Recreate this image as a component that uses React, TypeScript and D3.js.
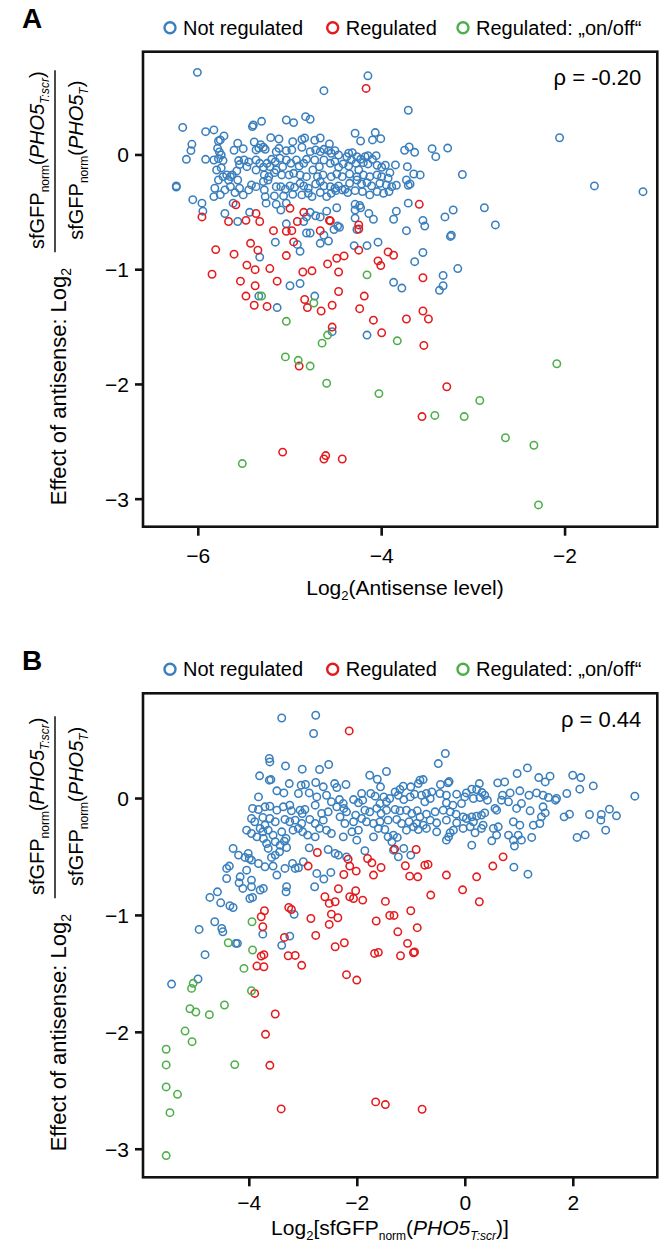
import React from "react";
import * as d3 from "d3";

type Pt = [number, number];

// Panel A: Log2(antisense level) vs effect of antisense
const notRegA: Pt[] = [
  [-6.01, 0.72], [-4.15, 0.69], [-4.63, 0.56], [-3.71, 0.39], [-2.06, 0.15], [-1.68, -0.27], [-1.15, -0.32],
  [-6.17, 0.24], [-6.24, -0.27], [-6.24, -0.28], [-3.12, -0.17], [-3.28, 0.06],
  [-3.71, -0.42], [-3.55, -0.57], [-3.53, -0.62], [-3.73, -0.66], [-3.84, -0.49], [-3.87, -0.56], [-4.27, -0.65],
  [-4.29, -0.55], [-4.14, -0.51], [-4.09, -0.56], [-4.29, -0.48], [-4.24, -0.44], [-4.29, -0.43], [-4.49, -0.46],
  [-4.52, -0.65], [-4.48, -0.62], [-4.46, -0.63], [-4.72, -0.53], [-4.67, -0.54], [-4.78, -0.5], [-4.63, -0.7],
  [-4.82, -0.68], [-4.78, -0.68], [-4.85, -0.58], [-5.04, -0.6], [-5.44, -0.5], [-5.57, -0.58], [-5.71, -0.51],
  [-5.95, -0.49], [-5.96, -0.42], [-6.06, -0.39], [-5.62, -0.42], [-5.26, -0.42], [-5.15, -0.43], [-5.1, -0.48],
  [-5.04, -0.42], [-4.6, -0.49], [-4.23, -0.46], [-4.82, -0.54],
  [-4.73, -1.23], [-4.54, -1.54], [-4.16, -1.57], [-5.14, -1.33], [-5.0, -1.14], [-4.89, -1.12], [-5.34, -1.23],
  [-5.33, -0.89], [-4.3, -0.79], [-4.16, -0.79], [-4.04, -0.76], [-4.67, -0.77], [-4.58, -0.75], [-5.16, -0.76],
  [-4.92, -0.78], [-4.89, -0.84], [-3.87, -1.11], [-3.78, -1.16], [-3.55, -0.85], [-3.64, -0.93], [-3.33, -1.05],
  [-3.33, -1.14], [-3.37, -1.18], [-3.17, -0.99], [-3.25, -0.71], [-3.24, -0.7], [-3.22, -0.48], [-3.31, -0.54],
  [-2.88, -0.46], [-2.76, -0.61],
  [-4.83, 0.334], [-4.78, 0.311], [-5.04, 0.305], [-4.96, 0.282], [-5.31, 0.293], [-5.4, 0.261], [-5.41, 0.247],
  [-5.92, 0.203], [-5.83, 0.218], [-5.72, 0.166], [-4.29, 0.189], [-4.07, 0.195], [-4.23, 0.122], [-4.1, 0.131],
  [-4.01, 0.142], [-5.78, 0.122], [-5.76, 0.131], [-5.21, 0.151], [-5.12, 0.139], [-4.97, 0.116], [-4.87, 0.136],
  [-4.84, 0.148], [-4.73, 0.128], [-4.67, 0.148], [-4.57, 0.096], [-6.07, 0.093], [-6.08, 0.038], [-6.13, -0.038],
  [-5.57, 0.102], [-5.61, 0.041], [-5.51, 0.055], [-5.39, 0.113], [-5.32, 0.09], [-5.34, 0.061], [-5.29, 0.067],
  [-5.37, 0.044], [-5.27, 0.049], [-5.12, 0.058], [-5.15, 0.029], [-5.04, 0.038], [-4.98, 0.044], [-4.87, 0.067],
  [-4.78, 0.029], [-4.72, 0.044], [-4.67, 0.029], [-4.63, 0.049], [-4.58, 0.038], [-4.55, 0.015], [-4.51, 0.038],
  [-4.47, 0.0], [-4.36, 0.015], [-4.32, 0.02], [-4.38, -0.015], [-4.27, -0.015], [-4.23, -0.038], [-4.18, -0.015],
  [-4.15, -0.006], [-4.06, -0.006], [-3.75, 0.041], [-3.7, 0.07], [-3.64, 0.023], [-3.45, 0.055], [-3.41, -0.015],
  [-5.92, -0.038], [-5.83, -0.044], [-5.78, -0.032], [-5.75, 0.0], [-5.73, -0.049], [-5.79, 0.058], [-5.77, 0.026],
  [-5.75, -0.113], [-5.8, -0.131], [-5.69, -0.174], [-5.65, -0.189], [-5.78, -0.218], [-5.56, -0.049], [-5.55, -0.084],
  [-5.5, -0.044], [-5.45, -0.061], [-5.47, -0.102], [-5.58, -0.139], [-5.63, -0.174], [-5.37, -0.044], [-5.33, -0.073],
  [-5.37, -0.131], [-5.29, -0.107], [-5.25, -0.073], [-5.2, -0.038], [-5.22, -0.102], [-5.16, -0.058], [-5.11, -0.029],
  [-5.08, -0.102], [-5.15, -0.131], [-5.04, -0.044], [-4.99, -0.073], [-4.93, -0.044], [-4.9, -0.096], [-4.85, -0.073],
  [-4.82, -0.038], [-4.73, -0.044], [-4.68, -0.102], [-4.75, -0.131], [-4.63, -0.044], [-4.56, -0.073], [-4.51, -0.058],
  [-4.47, -0.107], [-4.42, -0.078], [-4.36, -0.096], [-4.33, -0.044], [-4.28, -0.073], [-4.25, -0.131], [-4.2, -0.067],
  [-4.15, -0.078], [-4.1, -0.038], [-4.05, -0.09], [-4.0, -0.107], [-3.96, -0.09], [-3.91, -0.154], [-3.85, -0.087],
  [-3.72, -0.102], [-3.65, -0.166], [-3.58, -0.174], [-5.28, -0.174], [-5.23, -0.189], [-5.17, -0.154], [-5.09, -0.174],
  [-5.01, -0.174], [-4.96, -0.16], [-4.89, -0.174], [-4.82, -0.189], [-4.7, -0.189], [-4.64, -0.174], [-4.55, -0.189],
  [-4.49, -0.166], [-4.43, -0.189], [-4.35, -0.166], [-4.27, -0.189], [-4.2, -0.174], [-4.13, -0.189], [-4.05, -0.174],
  [-4.0, -0.189], [-3.93, -0.203], [-5.67, -0.218], [-5.73, -0.189], [-5.57, -0.218], [-5.82, -0.29], [-5.83, -0.363],
  [-5.76, -0.346], [-5.71, -0.305], [-5.65, -0.276], [-5.6, -0.328], [-5.55, -0.29], [-5.51, -0.348], [-5.45, -0.305],
  [-5.29, -0.232], [-5.24, -0.218], [-5.28, -0.305], [-5.27, -0.363], [-5.15, -0.276], [-5.1, -0.276], [-5.05, -0.299],
  [-5.0, -0.27], [-4.95, -0.282], [-4.89, -0.247], [-4.85, -0.27], [-4.8, -0.29], [-4.72, -0.253], [-4.67, -0.232],
  [-4.63, -0.27], [-4.56, -0.276], [-4.51, -0.29], [-4.47, -0.27], [-4.4, -0.299], [-4.35, -0.247], [-4.27, -0.218],
  [-4.22, -0.253], [-4.16, -0.241], [-4.11, -0.27], [-4.02, -0.247], [-3.95, -0.261], [-3.89, -0.276], [-3.84, -0.264],
  [-3.73, -0.218], [-3.71, -0.264], [-3.69, -0.253], [-5.42, -0.261], [-5.37, -0.276], [-5.17, -0.357], [-5.07, -0.357],
  [-4.97, -0.343], [-4.87, -0.348], [-4.8, -0.334], [-4.76, -0.363], [-4.67, -0.328], [-4.6, -0.363], [-4.55, -0.334],
  [-4.5, -0.311], [-4.43, -0.305], [-4.37, -0.328], [-4.29, -0.311], [-4.21, -0.319], [-4.13, -0.348], [-4.05, -0.319],
  [-3.98, -0.334], [-3.92, -0.319],
];

const regA: Pt[] = [
  [-4.17, 0.58], [-3.59, -0.43], [-4.25, -0.61], [-4.25, -0.645], [-4.57, -0.57], [-4.56, -0.575], [-4.67, -0.66],
  [-4.92, -0.58], [-5.0, -0.465], [-4.85, -0.5], [-5.18, -0.66], [-5.04, -0.665], [-4.98, -0.66], [-5.59, -0.435],
  [-5.96, -0.54], [-5.67, -0.58], [-5.48, -0.57], [-5.37, -0.51], [-5.33, -0.58],
  [-3.55, -1.07], [-3.55, -1.36], [-3.49, -1.43], [-3.73, -1.43], [-4.0, -1.55], [-4.09, -1.44], [-4.19, -1.23],
  [-4.24, -1.34], [-4.47, -1.19], [-4.54, -1.31], [-4.66, -1.36], [-4.81, -1.33], [-4.84, -1.26], [-4.54, -1.5],
  [-5.14, -1.1], [-5.25, -1.32], [-5.39, -1.31], [-5.48, -1.23], [-5.38, -1.14], [-5.54, -1.1], [-5.85, -1.04],
  [-5.47, -0.96], [-5.38, -1.0], [-5.22, -0.99], [-5.61, -0.865], [-5.81, -0.825], [-5.43, -0.77], [-5.35, -0.83],
  [-5.04, -0.877], [-4.86, -1.02], [-4.76, -1.01], [-4.59, -0.95], [-4.47, -1.02], [-4.49, -0.9], [-4.41, -0.88],
  [-4.25, -0.83], [-3.93, -0.845], [-3.87, -0.874], [-4.04, -0.923], [-4.01, -0.964], [-4.96, -0.758],
  [-3.54, -1.66], [-4.9, -1.84], [-3.29, -2.02], [-3.56, -2.28], [-5.08, -2.59], [-4.61, -2.62], [-4.63, -2.65],
  [-4.43, -2.65],
];

const onOffA: Pt[] = [
  [-4.16, -1.045], [-4.74, -1.29], [-4.59, -1.57], [-5.04, -1.45], [-5.31, -1.23], [-4.65, -1.64], [-3.83, -1.62],
  [-5.05, -1.76], [-4.91, -1.79], [-4.78, -1.84], [-4.6, -1.99], [-4.03, -2.08], [-2.93, -2.14], [-3.42, -2.27],
  [-3.1, -2.28], [-2.65, -2.465], [-2.34, -2.53], [-2.09, -1.82], [-5.52, -2.69], [-2.29, -3.05],
];

// Panel B: Log2[sfGFP(PHO5 T:scr)] vs effect of antisense
const notRegB: Pt[] = [
  [-3.4, 0.689], [-2.77, 0.712], [-2.81, 0.556], [1.99, 0.199], [2.14, 0.179], [2.37, 0.108], [2.12, 0.08],
  [3.14, 0.02], [2.67, -0.091], [2.8, -0.148], [2.52, -0.137], [2.51, -0.185], [2.3, -0.137], [2.22, -0.311],
  [2.07, -0.333], [2.6, -0.271], [-3.17, -0.991], [-4.93, -1.12], [-4.64, -1.054], [-4.51, -1.111], [-4.49, -1.14],
  [-4.25, -1.239], [-4.22, -1.239], [-3.75, -1.16], [-3.25, -1.177], [-3.4, -1.256], [-4.82, -1.336],
  [-5.44, -1.587], [-4.95, -1.544],
  [-0.37, 0.385], [-0.5, 0.299], [-3.63, 0.342], [-3.62, 0.313], [-3.33, 0.279], [-3.02, 0.251], [-2.7, 0.248],
  [-2.53, 0.291], [-1.46, 0.231], [-3.81, 0.194], [-3.63, 0.157], [-3.6, 0.162], [-3.26, 0.128], [-3.04, 0.114],
  [-2.96, 0.12], [-2.77, 0.137], [-2.63, 0.1], [-2.42, 0.128], [-2.38, 0.094], [-2.21, 0.12], [-1.77, 0.199],
  [-1.63, 0.165], [-1.57, 0.1], [0.96, 0.214], [1.15, 0.262], [1.36, 0.179], [1.57, 0.191], [1.48, 0.142],
  [0.6, 0.134], [0.73, 0.142], [-0.32, 0.134], [-0.3, 0.145], [-0.46, 0.12], [-0.84, 0.157], [-0.78, 0.162],
  [-0.87, 0.128], [-1.01, 0.1], [-1.15, 0.105], [-1.21, 0.077], [-1.3, 0.057], [0.12, 0.08], [0.26, 0.128],
  [0.31, 0.051], [0.21, 0.077], [1.01, 0.066], [1.18, 0.028], [1.32, 0.048], [1.44, 0.028], [1.54, 0.009],
  [1.67, -0.014], [1.88, 0.043], [0.83, 0.048], [0.69, 0.028], [0.67, -0.014],
  [-3.83, 0.014], [-3.49, 0.066], [-3.36, 0.048], [-3.09, 0.043], [-2.89, 0.048], [-2.75, 0.014], [-2.57, 0.028],
  [-2.48, -0.028], [-2.33, -0.009], [-2.26, -0.043], [-1.92, 0.043], [-1.9, -0.014], [-1.98, -0.037], [-2.07, -0.009],
  [-1.75, 0.043], [-1.67, 0.02], [-1.51, 0.014], [-1.4, 0.0], [-1.46, -0.028], [-1.58, -0.043], [-1.24, 0.028],
  [-1.14, -0.009], [-1.02, 0.014], [-0.94, 0.037], [-0.81, 0.028], [-0.72, 0.043], [-0.65, 0.0], [-0.75, -0.028],
  [-0.62, 0.057], [-0.47, 0.043], [-0.35, 0.028], [-0.16, 0.037], [-0.01, 0.014], [0.02, 0.048], [0.15, 0.0],
  [0.27, 0.009], [0.41, -0.014], [0.36, 0.028], [-0.35, -0.037], [-0.23, -0.057], [-0.07, -0.043], [0.55, -0.085],
  [0.58, -0.1], [0.8, -0.028], [0.95, -0.085], [1.04, -0.043], [1.2, -0.105], [1.44, -0.071], [1.48, -0.123],
  [1.69, 0.0], [1.83, -0.157], [1.93, -0.134],
  [-3.94, -0.085], [-3.83, -0.094], [-3.71, -0.071], [-3.62, -0.066], [-3.49, -0.1], [-3.37, -0.071], [-3.25, -0.057],
  [-3.22, -0.105], [-3.06, -0.1], [-2.97, -0.094], [-3.02, -0.128], [-2.78, -0.057], [-2.66, -0.128], [-2.54, -0.114],
  [-2.38, -0.071], [-2.25, -0.085], [-2.2, -0.114], [-2.03, -0.142], [-1.86, -0.1], [-1.77, -0.114], [-1.64, -0.085],
  [-1.56, -0.128], [-1.46, -0.1], [-1.3, -0.094], [-1.21, -0.105], [-1.09, -0.1], [-0.99, -0.128], [-0.89, -0.105],
  [-0.84, -0.157], [-0.72, -0.134], [-0.56, -0.114], [-0.41, -0.1], [-0.28, -0.114], [-0.17, -0.134], [-0.04, -0.157],
  [0.12, -0.157], [0.21, -0.151], [0.3, -0.142], [0.36, -0.123],
  [-3.96, -0.171], [-3.9, -0.199], [-3.75, -0.162], [-3.62, -0.171], [-3.52, -0.199], [-3.71, -0.228], [-3.8, -0.256],
  [-3.34, -0.179], [-3.25, -0.199], [-3.15, -0.185], [-3.03, -0.214], [-2.88, -0.179], [-2.78, -0.214], [-2.63, -0.185],
  [-2.32, -0.157], [-2.23, -0.214], [-2.07, -0.199], [-1.92, -0.171], [-1.83, -0.199], [-1.7, -0.214], [-1.58, -0.199],
  [-1.43, -0.185], [-1.27, -0.179], [-1.18, -0.214], [-1.04, -0.199], [-0.9, -0.214], [-0.78, -0.228], [-0.65, -0.185],
  [-0.53, -0.208], [-0.35, -0.185], [-0.16, -0.208], [0.02, -0.171], [0.15, -0.199], [0.33, -0.228], [0.52, -0.256],
  [0.61, -0.242], [0.89, -0.199], [1.01, -0.228], [1.26, -0.228], [1.38, -0.214], [1.41, -0.157],
  [-4.05, -0.271], [-3.96, -0.299], [-3.86, -0.328], [-3.75, -0.285], [-3.65, -0.271], [-3.56, -0.313], [-3.4, -0.285],
  [-3.32, -0.342], [-3.19, -0.271], [-3.09, -0.256], [-3.01, -0.285], [-2.92, -0.313], [-2.78, -0.328], [-2.7, -0.256],
  [-2.57, -0.271], [-2.48, -0.299], [-2.26, -0.328], [-2.1, -0.285], [-1.98, -0.271], [-2.01, -0.356], [-1.7, -0.328],
  [-1.61, -0.256], [-1.49, -0.265], [-1.43, -0.328], [-1.33, -0.313], [-1.26, -0.333], [-1.36, -0.37], [-1.33, -0.442],
  [-1.09, -0.271], [-0.96, -0.242], [-0.87, -0.265], [-0.72, -0.256], [-0.53, -0.285], [-0.28, -0.293], [-0.31, -0.328],
  [-0.22, -0.271], [-0.04, -0.256], [0.09, -0.242], [0.18, -0.293], [0.3, -0.256], [0.58, -0.313], [0.8, -0.313],
  [0.89, -0.356], [0.98, -0.313], [1.04, -0.356], [1.23, -0.333], [0.91, -0.407], [0.12, -0.399], [0.49, -0.362],
  [-0.35, -0.356],
  [-3.74, -0.342], [-3.68, -0.385], [-3.52, -0.37], [-3.43, -0.399], [-3.35, -0.365], [-3.31, -0.419], [-3.44, -0.456],
  [-3.52, -0.484], [-3.59, -0.504], [-3.65, -0.427], [-4.3, -0.427], [-4.2, -0.484], [-4.02, -0.47], [-4.0, -0.513],
  [-4.08, -0.504], [-3.96, -0.527], [-2.89, -0.422], [-2.54, -0.436], [-2.41, -0.47], [-2.35, -0.484], [-2.2, -0.499],
  [-1.86, -0.447], [-1.14, -0.427], [-1.01, -0.484], [-1.24, -0.499], [0.9, -0.587], [1.16, -0.647],
  [-4.37, -0.578], [-4.42, -0.598], [-3.83, -0.556], [-3.71, -0.584], [-3.56, -0.578], [-3.49, -0.655], [-3.34, -0.598],
  [-3.2, -0.556], [-3.15, -0.598], [-3.09, -0.593], [-3.0, -0.541], [-4.05, -0.613], [-4.17, -0.67], [-3.96, -0.698],
  [-2.75, -0.641], [-2.62, -0.689], [-2.49, -0.632], [-4.42, -0.684], [-4.19, -0.721], [-4.12, -0.769], [-3.96, -0.755],
  [-3.8, -0.783], [-3.74, -0.769], [-3.94, -0.846], [-3.99, -0.855], [-2.79, -0.755], [-3.31, -0.755], [-3.32, -0.798],
  [-4.59, -0.798], [-4.73, -0.846], [-4.53, -0.892], [-4.36, -0.917], [-4.3, -0.932],
];

const regB: Pt[] = [
  [-2.15, 0.578], [-2.74, -0.462], [-1.31, -0.433], [-0.91, -0.436], [-2.17, -0.519], [-2.14, -0.578], [-1.81, -0.513],
  [-1.73, -0.55], [-1.56, -0.59], [-1.11, -0.575], [-0.75, -0.57], [-0.69, -0.564], [0.7, -0.499], [0.51, -0.578],
  [-2.91, -0.578], [-2.25, -0.65], [-2.02, -0.621], [-1.7, -0.655], [-1.03, -0.664], [-0.88, -0.67], [-0.35, -0.655],
  [0.21, -0.67], [-2.35, -0.772], [-2.6, -0.84], [-2.52, -0.897], [-2.41, -0.883], [-2.14, -0.84], [-2.07, -0.855],
  [-2.03, -0.789], [-1.9, -0.869], [-1.48, -0.88], [-0.64, -0.826], [-0.05, -0.781], [0.26, -0.883],
  [-3.27, -0.932], [-3.22, -0.949], [-3.72, -0.96], [-3.78, -1.011], [-2.86, -1.026], [-2.48, -0.989], [-2.52, -1.077],
  [-2.36, -1.02], [-1.65, -1.048], [-1.4, -1.0], [-1.32, -1.0], [-1.01, -0.96], [-1.25, -1.14], [-0.89, -1.105],
  [-1.07, -1.239], [-3.75, -1.097], [-3.35, -1.188], [-2.77, -1.171], [-2.41, -1.268], [-2.24, -1.234], [-1.68, -1.325],
  [-1.61, -1.316], [-1.2, -1.345], [-0.96, -1.319], [-0.94, -1.313], [-3.78, -1.348], [-3.73, -1.336], [-3.28, -1.345],
  [-3.15, -1.342],
  [-3.03, -1.427], [-3.86, -1.433], [-3.73, -1.439], [-2.2, -1.507], [-2.01, -1.553], [-3.9, -1.667], [-3.52, -1.843],
  [-3.7, -2.017], [-3.62, -2.282], [-3.41, -2.655], [-1.66, -2.595], [-1.48, -2.618], [-0.8, -2.658],
];

const onOffB: Pt[] = [
  [-4.39, -1.234], [-3.95, -1.054], [-3.94, -1.296], [-4.1, -1.453], [-5.04, -1.581], [-5.07, -1.624], [-3.96, -1.644],
  [-4.46, -1.766], [-5.1, -1.798], [-4.99, -1.826], [-4.74, -1.849], [-5.19, -1.989], [-5.06, -2.08], [-5.54, -2.145],
  [-5.54, -2.279], [-4.27, -2.276], [-5.54, -2.467], [-5.33, -2.53], [-5.47, -2.687], [-5.54, -3.054],
];

const legendLabels = ["Not regulated", "Regulated", "Regulated: \u201eon/off\u201c"];
const colors = ["#3a7fbd", "#e41a1c", "#4daf4a"];
const yTicks = [0, -1, -2, -3];
const xTicksA = [-6, -4, -2];
const xTicksB = [-4, -2, 0, 2];
const yDomain: [number, number] = [-3.24, 0.9];

const FONT = "'Liberation Sans', Arial, Helvetica, sans-serif";
const fmt = (d: number) => (d < 0 ? "\u2212" + Math.abs(d) : String(d));

const Ratio = ({ sub }: { sub: string }) => (
  <>
    sfGFP<tspan fontSize={12} dy={5}>norm</tspan>
    <tspan dy={-5}>(</tspan>
    <tspan fontStyle="italic">PHO5</tspan>
    <tspan fontSize={12} fontStyle="italic" dy={5}>{sub}</tspan>
    <tspan dy={-5}>)</tspan>
  </>
);

function Panel({ top, height, xDomain, xTicks, series, rho, tag, tickY, titleY, titleX, xTitle }: any) {
  const left = 143;
  const right = 657.3;
  const bottom = top + height;
  const x = d3.scaleLinear().domain(xDomain).range([left, right]);
  const y = d3.scaleLinear().domain(yDomain).range([bottom, top]);
  const legendY = top - 24;
  const legendX = [170, 332.7, 463];
  const yMid = (top + bottom) / 2;

  return (
    <g fontFamily={FONT}>
      <text x={22} y={top - 23.4} fontSize={28} fontWeight="bold">{tag}</text>

      {/* legend */}
      {legendLabels.map((l, i) => (
        <g key={l}>
          <circle cx={legendX[i]} cy={legendY} r={5.5} fill="none" stroke={colors[i]} strokeWidth={2.4} />
          <text x={legendX[i] + 13} y={legendY + 7} fontSize={20}>{l}</text>
        </g>
      ))}

      {/* points */}
      {series.map((pts: Pt[], si: number) => (
        <g key={si}>
          {pts.map((d, i) => (
            <circle key={i} cx={x(d[0])} cy={y(d[1])} r={3.7} fill="none" stroke={colors[si]} strokeWidth={1.55} />
          ))}
        </g>
      ))}

      <rect x={left} y={top} width={right - left} height={height} fill="none" stroke="#111" strokeWidth={2.6} />

      {/* y axis */}
      {yTicks.map((t) => (
        <g key={t}>
          <line x1={left - 8} x2={left} y1={y(t)} y2={y(t)} stroke="#111" strokeWidth={2.6} />
          <text x={129} y={y(t)} dy="0.35em" textAnchor="end" fontSize={21}>{fmt(t)}</text>
        </g>
      ))}

      {/* x axis */}
      {xTicks.map((t: number) => (
        <g key={t}>
          <line x1={x(t)} x2={x(t)} y1={bottom} y2={bottom + 9} stroke="#111" strokeWidth={2.6} />
          <text x={x(t)} y={tickY} textAnchor="middle" fontSize={21}>{fmt(t)}</text>
        </g>
      ))}
      <text x={titleX} y={titleY} textAnchor="middle" fontSize={21}>{xTitle}</text>

      <text x={right - 16} y={top + 33.5} textAnchor="end" fontSize={22}>{rho}</text>

      {/* y axis title */}
      <g transform={`translate(66, ${yMid + 216}) rotate(-90)`}>
        <text x={0} y={0} fontSize={22}>
          Effect of antisense: Log<tspan fontSize={14} dy={5}>2</tspan>
        </text>
        <line x1={253} x2={435} y1={-11} y2={-11} stroke="#111" strokeWidth={1.5} />
        <text x={345} y={-22.5} textAnchor="middle" fontSize={20}>
          <Ratio sub="T:scr" />
        </text>
        <text x={345} y={17} textAnchor="middle" fontSize={20}>
          <Ratio sub="T" />
        </text>
      </g>
    </g>
  );
}

export default function App() {
  return (
    <svg width={659} height={1252} style={{ position: "absolute", left: 0, top: 0, background: "#fff" }}>
      <Panel
        top={51.7}
        height={475}
        xDomain={[-6.603, -0.994]}
        xTicks={xTicksA}
        series={[notRegA, regA, onOffA]}
        rho={"\u03c1 = -0.20"}
        tag="A"
        tickY={563.3}
        titleY={595}
        titleX={405}
        xTitle={
          <>
            Log<tspan fontSize={13} dy={5}>2</tspan>
            <tspan dy={-5}>(Antisense level)</tspan>
          </>
        }
      />
      <Panel
        top={693.3}
        height={484}
        xDomain={[-5.969, 3.556]}
        xTicks={xTicksB}
        series={[notRegB, regB, onOffB]}
        rho={"\u03c1 = 0.44"}
        tag="B"
        tickY={1210}
        titleY={1235}
        titleX={390}
        xTitle={
          <>
            Log<tspan fontSize={13} dy={5}>2</tspan>
            <tspan dy={-5}>[sfGFP</tspan>
            <tspan fontSize={12} dy={5}>norm</tspan>
            <tspan dy={-5}>(</tspan>
            <tspan fontStyle="italic">PHO5</tspan>
            <tspan fontSize={12} fontStyle="italic" dy={5}>T:scr</tspan>
            <tspan dy={-5}>)]</tspan>
          </>
        }
      />
    </svg>
  );
}
